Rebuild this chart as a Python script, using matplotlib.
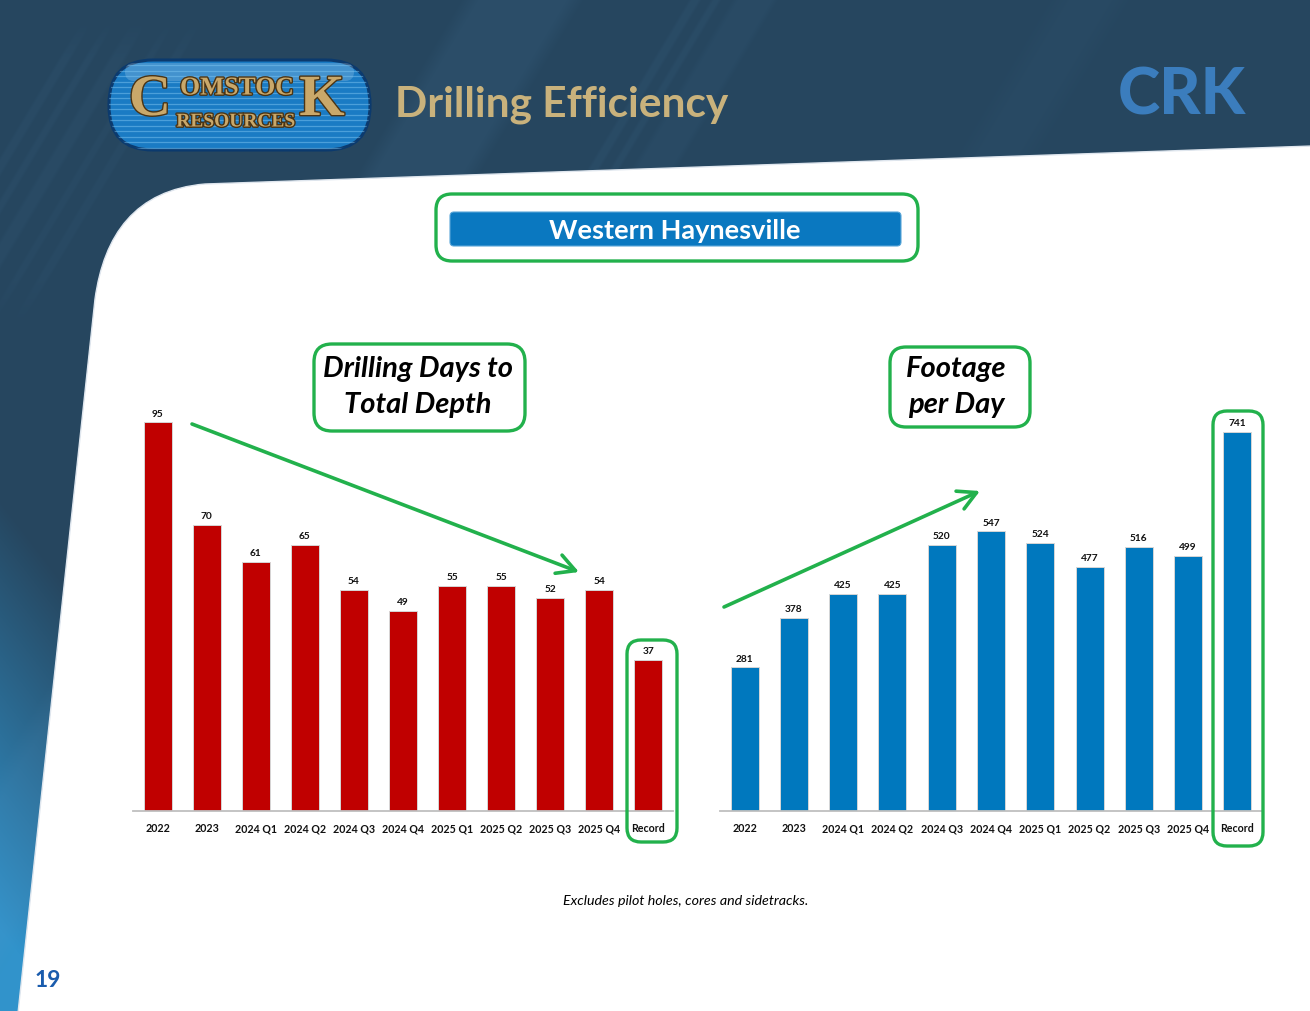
import numpy as np
import matplotlib
matplotlib.use("Agg")
import matplotlib.pyplot as plt
from matplotlib.patches import FancyBboxPatch, PathPatch
from matplotlib.path import Path
import matplotlib.patheffects as pe

# ---------------- data ----------------
categories = ["2022", "2023", "2024 Q1", "2024 Q2", "2024 Q3", "2024 Q4",
              "2025 Q1", "2025 Q2", "2025 Q3", "2025 Q4", "Record"]
drilling_days = [95, 70, 61, 65, 54, 49, 55, 55, 52, 54, 37]
footage_per_day = [281, 378, 425, 425, 520, 547, 524, 477, 516, 499, 741]

title = "Drilling Efficiency"
banner = "Western Haynesville"
left_title = ["Drilling Days to", "Total Depth"]
right_title = ["Footage", "per Day"]
footnote = "Excludes pilot holes, cores and sidetracks."
page_no = "19"

W, H = 1310, 1012
FONT = ["Lato", "DejaVu Sans"]
GREEN = "#22b14c"

fig = plt.figure(figsize=(W / 100, H / 100), dpi=100)

# ---------------- background ----------------
bg = fig.add_axes([0, 0, 1, 1], zorder=0)
bg.set_xlim(0, W)
bg.set_ylim(H, 0)
bg.axis("off")

yy, xx = np.mgrid[0:H, 0:W].astype(float)
base = np.array([0x26, 0x46, 0x5f]) / 255.0
light = np.array([0x31, 0x93, 0xcb]) / 255.0
t = np.clip((yy - 500 - 1.3 * xx) / 430.0, 0, 1)
img = base[None, None, :] * (1 - t[..., None]) + light[None, None, :] * t[..., None]


def band(u, a, b, s):
    return np.clip((u - a) / s + 0.5, 0, 1) * np.clip((b - u) / s + 0.5, 0, 1)


u = xx + 0.6 * yy
stripe = (0.10 * band(u, 470, 575, 20)
          + 0.07 * band(u, 690, 700, 4) + 0.07 * band(u, 712, 720, 4)
          + 0.06 * band(u, 735, 775, 8)
          + 0.05 * band(u, 1060, 1120, 30))
left_mask = np.clip((330 - yy) / 60, 0, 1) * np.clip((yy - 20) / 40, 0, 1)
stripe += left_mask * (0.06 * band(u, 95, 105, 4) + 0.06 * band(u, 120, 128, 4)
                       + 0.06 * band(u, 145, 160, 5) + 0.05 * band(u, 180, 188, 4)
                       + 0.05 * band(u, 205, 215, 4))
hl = np.array([0.36, 0.58, 0.76])
img = img * (1 - stripe[..., None]) + hl[None, None, :] * stripe[..., None]
bg.imshow(img, extent=(0, W, H, 0), aspect="auto", interpolation="bilinear", zorder=0)

verts = [(W + 2, 147), (205, 185), (135, 191), (104, 236), (95, 300),
         (18, H + 2), (W + 2, H + 2), (W + 2, 147)]
codes = [Path.MOVETO, Path.LINETO, Path.CURVE4, Path.CURVE4, Path.CURVE4,
         Path.LINETO, Path.LINETO, Path.CLOSEPOLY]
bg.add_patch(PathPatch(Path(verts, codes), facecolor="white", edgecolor="#dfe6ee",
                       lw=1.0, zorder=1))

# ---------------- bar charts ----------------
def bar_axes(left_px, width_px, values, color, px_per_unit):
    ax = fig.add_axes([left_px / W, (H - 812) / H, width_px / W, 400 / H], zorder=5)
    ax.patch.set_alpha(0)
    x = np.arange(len(values))
    ax.bar(x, values, width=0.57, color=color, edgecolor="#d6d6d6", linewidth=0.7)
    ax.set_xlim(-0.5, len(values) - 0.5)
    ax.set_ylim(0, 400 / px_per_unit)
    for s in ["left", "right", "top"]:
        ax.spines[s].set_visible(False)
    ax.spines["bottom"].set_color("#bfbfbf")
    ax.spines["bottom"].set_linewidth(1.3)
    ax.set_yticks([])
    ax.set_xticks(x)
    ax.set_xticklabels(categories, fontsize=7.7, fontweight="bold", family=FONT,
                       color="#111111")
    ax.tick_params(axis="x", length=0, pad=8)
    for xi, v in zip(x, values):
        ax.annotate(str(v), (xi, v), xytext=(0, 3.5), textcoords="offset points",
                    ha="center", va="bottom", fontsize=7.3, fontweight="bold",
                    family=FONT, color="#111111")
    return ax


bar_axes(133, 540, drilling_days, "#c00000", 4.09)
bar_axes(720, 542, footage_per_day, "#0078be", 0.511)

# ---------------- overlay ----------------
ov = fig.add_axes([0, 0, 1, 1], zorder=10)
ov.set_xlim(0, W)
ov.set_ylim(H, 0)
ov.axis("off")
ov.patch.set_alpha(0)


def rbox(x0, y0, x1, y1, r, **kw):
    p = FancyBboxPatch((x0, y0), x1 - x0, y1 - y0,
                       boxstyle=f"round,pad=0,rounding_size={r}", **kw)
    ov.add_patch(p)
    return p


# logo
logo = rbox(109, 61, 370, 151, 44, facecolor="#1a7bc4", edgecolor="#0b3a6e", lw=2.2)
for yl in np.arange(66, 150, 5.5):
    ln, = ov.plot([105, 375], [yl, yl], color="#7cc4f0", lw=0.9, alpha=0.5)
    ln.set_clip_path(logo)
rbox(125, 64, 354, 82, 9, facecolor="white", edgecolor="none", alpha=0.18)
gold = "#c9a86a"
fx = [pe.withStroke(linewidth=2, foreground="#4a3415")]
ov.text(150, 102, "C", fontsize=42, family="Liberation Serif", fontweight="bold",
        color=gold, ha="center", va="center", path_effects=fx)
ov.text(237, 89, "OMSTOC", fontsize=18.5, family="Liberation Serif", fontweight="bold",
        color=gold, ha="center", va="center", path_effects=fx)
ov.text(322, 102, "K", fontsize=42, family="Liberation Serif", fontweight="bold",
        color=gold, ha="center", va="center", path_effects=fx)
ov.text(236, 123, "RESOURCES", fontsize=14, family="Liberation Serif", fontweight="bold",
        color=gold, ha="center", va="center", path_effects=fx)

# header texts
ov.text(395, 105, title, fontsize=30.5, fontweight="bold", family=FONT, color="#c9b27c",
        ha="left", va="center")
ov.text(1182, 96, "CRK", fontsize=46, fontweight="black", family=FONT, color="#3b7dbd",
        ha="center", va="center")

# banner
rbox(436, 195, 918, 262, 16, facecolor="none", edgecolor=GREEN, lw=2.4)
rbox(450, 213, 901, 247, 4, facecolor="#0a78c0", edgecolor="#5aa6d8", lw=0.8)
ov.text(675, 231, banner, fontsize=19.5, fontweight="bold", family=FONT, color="white",
        ha="center", va="center")

# chart titles
rbox(314, 345, 525, 432, 18, facecolor="none", edgecolor=GREEN, lw=2.4)
for i, s in enumerate(left_title):
    ov.text(418, 369 + 36 * i, s, fontsize=21, fontweight="bold", style="italic",
            family=FONT, color="black", ha="center", va="center")
rbox(890, 348, 1030, 428, 16, facecolor="none", edgecolor=GREEN, lw=2.4)
for i, s in enumerate(right_title):
    ov.text(956, 369 + 36 * i, s, fontsize=21, fontweight="bold", style="italic",
            family=FONT, color="black", ha="center", va="center")

# record highlights
rbox(627, 641, 677, 843, 14, facecolor="none", edgecolor=GREEN, lw=2.4)
rbox(1213, 412, 1263, 847, 14, facecolor="none", edgecolor=GREEN, lw=2.4)

# trend arrows
ov.annotate("", xy=(579, 573), xytext=(192, 425),
            arrowprops=dict(arrowstyle="->,head_length=1.3,head_width=0.7",
                            color=GREEN, lw=2.6, shrinkA=0, shrinkB=0))
ov.annotate("", xy=(980, 492), xytext=(724, 608),
            arrowprops=dict(arrowstyle="->,head_length=1.3,head_width=0.7",
                            color=GREEN, lw=2.6, shrinkA=0, shrinkB=0))

# footnote & page number
ov.text(686, 901, footnote, fontsize=10.3, style="italic", family=FONT, color="black",
        ha="center", va="center")
ov.text(48, 981, page_no, fontsize=16.5, fontweight="bold", family=FONT, color="#1a5cad",
        ha="center", va="center")

fig.savefig("out.png", dpi=100)
